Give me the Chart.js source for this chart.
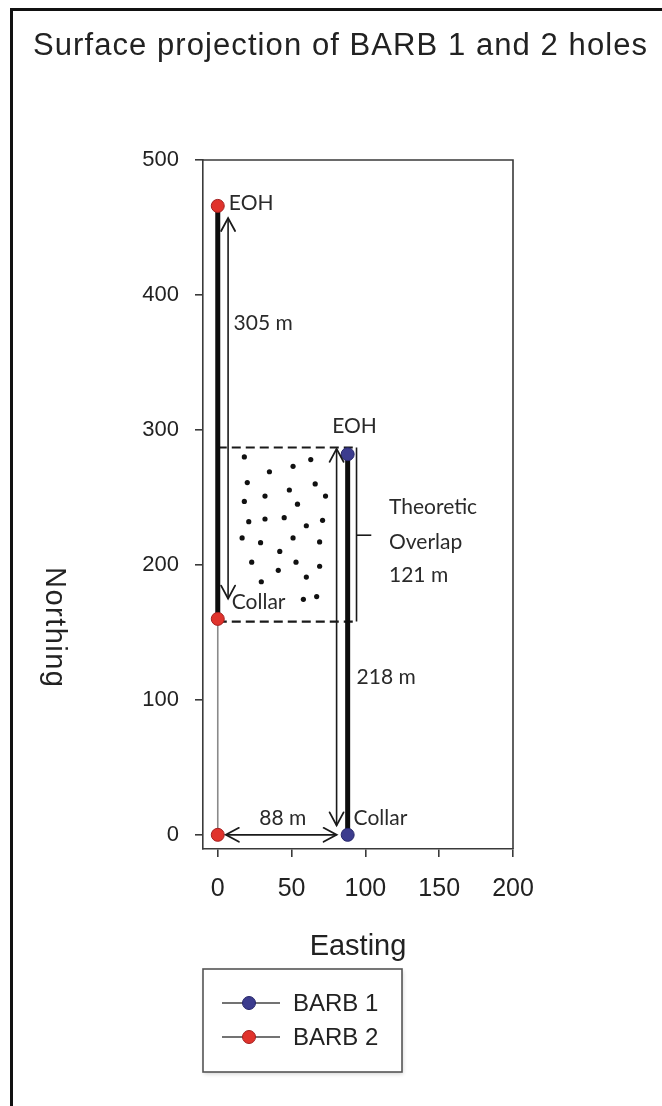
<!DOCTYPE html>
<html><head><meta charset="utf-8">
<script src="https://cdn.jsdelivr.net/npm/chart.js@4.4.1/dist/chart.umd.min.js"></script>
<style>
html,body{margin:0;padding:0;background:#fff;overflow:hidden;}
#wrap{position:relative;width:662px;height:1106px;overflow:hidden;}
#frame{position:absolute;left:10px;top:8px;width:700px;height:1200px;border-left:3px solid #111;border-top:3px solid #111;}
canvas{position:absolute;left:0;top:0;}
</style></head><body>
<div id="wrap"><div id="frame"></div><canvas id="c" width="662" height="1106"></canvas></div>
<script>
// ---- text ----
const titleText = 'Surface projection of BARB 1 and 2 holes';
const xAxisTitle = 'Easting';
const yAxisTitle = 'Northing';
const seriesNames = ['BARB 1', 'BARB 2'];

// ---- ticks ----
const eastingTicks = [0, 50, 100, 150, 200];
const northingTicks = [0, 100, 200, 300, 400, 500];

// ---- hole positions (collar / EOH) ----
const barb1Easting = [88, 88];
const barb1Northing = [0, 282];
const barb2Easting = [0, 0, 0];
const barb2Northing = [0, 160, 466];

// ---- hole traces ----
const trace1Easting = [88, 88];
const trace1Northing = [0, 282];
const trace2Easting = [0, 0];
const trace2Northing = [160, 466];
const stem2Easting = [0, 0];
const stem2Northing = [0, 160];

// ---- overlap box ----
const overlapTopEasting = [0, 94];
const overlapTopNorthing = [287, 287];
const overlapBottomEasting = [0, 94];
const overlapBottomNorthing = [158, 158];
const bracketEasting = [94, 94];
const bracketNorthing = [287, 158];
const bracketTickEasting = [94, 104];
const bracketTickNorthing = [222, 222];

// ---- dimension arrows ----
const arrow305Easting = [7, 7];
const arrow305Northing = [175, 457];
const arrow218Easting = [80.5, 80.5];
const arrow218Northing = [7, 286];
const arrow88Easting = [5.5, 80.5];
const arrow88Northing = [0, 0];

// ---- overlap stipple dots ----
const dotEasting = [18, 51, 63, 35, 20, 66, 48.5, 32, 73, 18, 54, 21, 32, 45, 71, 60, 16.5, 29, 51, 69, 42, 23, 41, 53, 69, 29.5, 60, 58, 67];
const dotNorthing = [280, 273, 278, 269, 261, 260, 255.5, 251, 251, 247, 245, 232, 234, 235, 233, 229, 220, 216.5, 220, 217, 210, 202, 196, 202, 199, 187.5, 191, 174.5, 176.5];

// ---- annotations ----
const noteTexts = ['EOH', '305 m', 'EOH', 'Theoretic', 'Overlap', '121 m', 'Collar', '218 m', '88 m', 'Collar'];
const noteEasting = [7.5, 10.7, 77.5, 116, 116, 116, 9.5, 94, 44, 92];
const noteNorthing = [468, 379, 303, 243, 217, 192.6, 172.5, 117, 12.5, 12.5];
const noteAlign = ['left', 'left', 'left', 'left', 'left', 'left', 'left', 'left', 'center', 'left'];

const pts = (xs, ys) => xs.map((x, i) => ({x: x, y: ys[i]}));
const BLUE = '#3c3c8e', BLUE_EDGE = '#26266a';
const RED = '#e0332c', RED_EDGE = '#a32020';
const INK = '#2a2a2a';

function lineDS(xs, ys, opts) {
  return Object.assign({
    data: pts(xs, ys), showLine: true, pointRadius: 0, pointHoverRadius: 0,
    borderColor: '#1a1a1a', borderWidth: 1.6, fill: false, tension: 0
  }, opts);
}

const datasets = [
  {label: seriesNames[0], data: pts(barb1Easting, barb1Northing), showLine: false,
   pointRadius: 6.5, pointBackgroundColor: BLUE, pointBorderColor: BLUE_EDGE, pointBorderWidth: 1, order: 0},
  {label: seriesNames[1], data: pts(barb2Easting, barb2Northing), showLine: false,
   pointRadius: 6.5, pointBackgroundColor: RED, pointBorderColor: RED_EDGE, pointBorderWidth: 1, order: 0},
  {label: 'dots', data: pts(dotEasting, dotNorthing), showLine: false,
   pointRadius: 2.6, pointBackgroundColor: '#111', pointBorderWidth: 0, order: 1},
  lineDS(trace1Easting, trace1Northing, {label: 'trace1', borderWidth: 5, borderColor: '#0d0d0d', order: 2}),
  lineDS(trace2Easting, trace2Northing, {label: 'trace2', borderWidth: 5, borderColor: '#0d0d0d', order: 2}),
  lineDS(arrow305Easting, arrow305Northing, {label: 'a305', arrow: true, order: 3}),
  lineDS(arrow218Easting, arrow218Northing, {label: 'a218', arrow: true, order: 3}),
  lineDS(arrow88Easting, arrow88Northing, {label: 'a88', arrow: true, order: 3}),
  lineDS(overlapTopEasting, overlapTopNorthing, {label: 'ot', borderDash: [9, 5], borderWidth: 2.2, order: 4}),
  lineDS(overlapBottomEasting, overlapBottomNorthing, {label: 'ob', borderDash: [9, 5], borderWidth: 2.2, order: 4}),
  lineDS(bracketEasting, bracketNorthing, {label: 'br', borderWidth: 1.6, order: 4}),
  lineDS(bracketTickEasting, bracketTickNorthing, {label: 'brt', borderWidth: 1.6, order: 4}),
  lineDS(stem2Easting, stem2Northing, {label: 'stem', borderWidth: 1.6, borderColor: '#8a8a8a', order: 5})
];

const decor = {
  id: 'decor',
  afterDatasetsDraw(chart) {
    const ctx = chart.ctx, ca = chart.chartArea;
    const xs = chart.scales.x, ys = chart.scales.y;
    ctx.save();
    // top & right frame lines
    ctx.strokeStyle = '#3a3a3a'; ctx.lineWidth = 1.6;
    ctx.beginPath();
    ctx.moveTo(ca.left, ca.top); ctx.lineTo(ca.right, ca.top); ctx.lineTo(ca.right, ca.bottom);
    ctx.stroke();
    // arrowheads
    ctx.strokeStyle = '#1a1a1a'; ctx.lineWidth = 1.8; ctx.lineCap = 'round';
    chart.data.datasets.forEach((ds, i) => {
      if (!ds.arrow) return;
      const d = chart.getDatasetMeta(i).data;
      const a = d[0], b = d[d.length - 1];
      [[a, b], [b, a]].forEach(([tip, from]) => {
        const ang = Math.atan2(tip.y - from.y, tip.x - from.x);
        const L = 13, W = 7;
        const bx = tip.x - L * Math.cos(ang), by = tip.y - L * Math.sin(ang);
        const nx = -Math.sin(ang) * W, ny = Math.cos(ang) * W;
        ctx.beginPath();
        ctx.moveTo(bx + nx, by + ny); ctx.lineTo(tip.x, tip.y); ctx.lineTo(bx - nx, by - ny);
        ctx.stroke();
      });
    });
    // annotations
    ctx.fillStyle = INK;
    ctx.font = '21px Lato, "Open Sans", sans-serif';
    ctx.textBaseline = 'middle';
    noteTexts.forEach((t, i) => {
      ctx.textAlign = noteAlign[i];
      ctx.fillText(t, xs.getPixelForValue(noteEasting[i]), ys.getPixelForValue(noteNorthing[i]));
    });
    ctx.restore();
  },
  afterDraw(chart) {
    const ctx = chart.ctx, ca = chart.chartArea;
    ctx.save();
    ctx.fillStyle = '#222';
    // title
    ctx.font = '31px "Liberation Sans", Arial, sans-serif';
    ctx.textAlign = 'left'; ctx.textBaseline = 'alphabetic';
    const nat = ctx.measureText(titleText).width;
    const sp = (614 - nat) / (titleText.length - 1);
    let x = 33;
    for (const ch of titleText) { ctx.fillText(ch, x, 55); x += ctx.measureText(ch).width + sp; }
    // x axis title
    ctx.font = '29px "Liberation Sans", Arial, sans-serif';
    ctx.textAlign = 'center';
    ctx.fillText(xAxisTitle, (ca.left + ca.right) / 2, 955);
    // y axis title rotated clockwise
    ctx.save();
    ctx.translate(54, 627);
    ctx.rotate(Math.PI / 2);
    ctx.textBaseline = 'middle';
    ctx.font = '29px "Liberation Sans", Arial, sans-serif';
    const nw = ctx.measureText(yAxisTitle).width;
    const ysp = (120 - nw) / (yAxisTitle.length - 1);
    let yx = -60;
    ctx.textAlign = 'left';
    for (const ch of yAxisTitle) { ctx.fillText(ch, yx, 0); yx += ctx.measureText(ch).width + ysp; }
    ctx.restore();
    // legend
    const lx = 203, ly = 969, lw = 199, lh = 103;
    ctx.fillStyle = '#fff';
    ctx.shadowColor = 'rgba(0,0,0,0.18)'; ctx.shadowBlur = 4; ctx.shadowOffsetX = 1; ctx.shadowOffsetY = 2;
    ctx.fillRect(lx, ly, lw, lh);
    ctx.shadowColor = 'transparent';
    ctx.strokeStyle = '#555'; ctx.lineWidth = 1.6;
    ctx.strokeRect(lx, ly, lw, lh);
    const rows = [1003, 1037];
    [0, 1].forEach(k => {
      const ds = chart.data.datasets[k];
      const y = rows[k];
      ctx.strokeStyle = '#444'; ctx.lineWidth = 1.6;
      ctx.beginPath(); ctx.moveTo(222, y); ctx.lineTo(280, y); ctx.stroke();
      ctx.beginPath(); ctx.arc(249, y, 6.5, 0, Math.PI * 2);
      ctx.fillStyle = ds.pointBackgroundColor; ctx.fill();
      ctx.strokeStyle = ds.pointBorderColor; ctx.lineWidth = 1; ctx.stroke();
      ctx.fillStyle = '#222';
      ctx.font = '24px "Liberation Sans", Arial, sans-serif';
      ctx.textAlign = 'left'; ctx.textBaseline = 'middle';
      ctx.fillText(ds.label, 293, y + 1);
    });
    ctx.restore();
  }
};

new Chart(document.getElementById('c'), {
  type: 'scatter',
  data: {datasets: datasets},
  plugins: [decor],
  options: {
    responsive: false,
    animation: false,
    devicePixelRatio: 1,
    layout: {padding: {left: 0, top: 160, right: 149, bottom: 197}},
    plugins: {legend: {display: false}, tooltip: {enabled: false}, title: {display: false}},
    scales: {
      x: {
        type: 'linear', min: -10, max: 200,
        afterBuildTicks: s => { s.ticks = eastingTicks.map(v => ({value: v})); },
        afterFit: s => { s.height = 60; },
        grid: {display: true, drawOnChartArea: false, drawTicks: true, tickLength: 8, color: '#3a3a3a', lineWidth: 1.6},
        border: {display: true, color: '#3a3a3a', width: 1.6},
        ticks: {color: '#222', padding: 17, maxRotation: 0, font: {family: '"Liberation Sans", Arial, sans-serif', size: 25}}
      },
      y: {
        type: 'linear', min: -10.5, max: 500,
        afterBuildTicks: s => { s.ticks = northingTicks.map(v => ({value: v})); },
        afterFit: s => { s.width = 203; },
        grid: {display: true, drawOnChartArea: false, drawTicks: true, tickLength: 8, color: '#3a3a3a', lineWidth: 1.6},
        border: {display: true, color: '#3a3a3a', width: 1.6},
        ticks: {color: '#222', padding: 16, font: {family: '"Liberation Sans", Arial, sans-serif', size: 22}}
      }
    }
  }
});
</script>
</body></html>
